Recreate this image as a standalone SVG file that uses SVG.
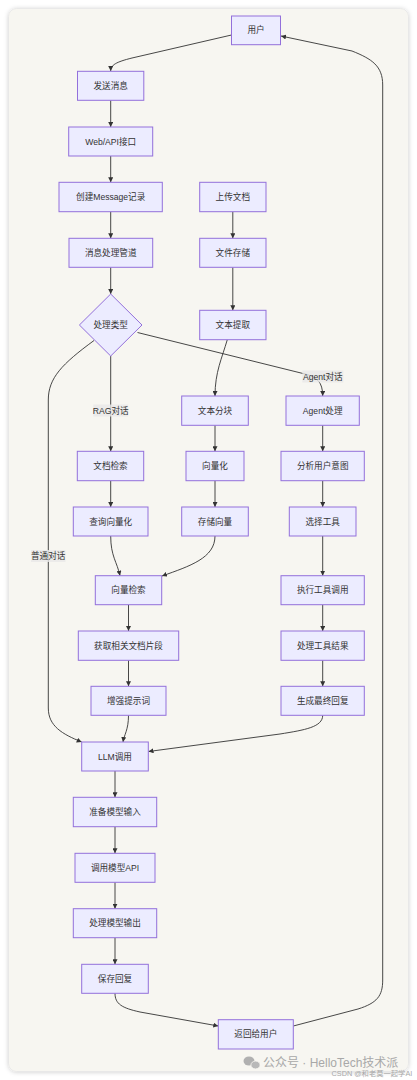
<svg xmlns="http://www.w3.org/2000/svg" width="417" height="1080" viewBox="0 0 417 1080">
<defs>
<filter id="sh" x="-5%" y="-5%" width="110%" height="110%"><feDropShadow dx="0" dy="0.5" stdDeviation="2" flood-color="#000" flood-opacity="0.18"/></filter>
<marker id="ah" viewBox="0 0 10 10" refX="10" refY="5" markerUnits="userSpaceOnUse" markerWidth="5" markerHeight="5" orient="auto"><path d="M0,0 L10,5 L0,10 z" fill="#333"/></marker>
</defs>
<style>
.n rect,.n polygon{fill:#ECECFF;stroke:#9370DB;stroke-width:1}
.n text,.lb text{font-family:"Liberation Sans","Noto Sans CJK SC",sans-serif;font-size:8.6px;fill:#333;text-anchor:middle;dominant-baseline:central}
.e path{fill:none;stroke:#333;stroke-width:0.9;marker-end:url(#ah)}
.lb rect{fill:#e8e8e8;opacity:0.8}
.wm{font-family:"Liberation Sans","Noto Sans CJK SC",sans-serif;fill:#a8a8a8}
</style>
<rect x="0" y="0" width="417" height="1080" fill="#ffffff"/>
<rect x="8.5" y="8.5" width="400" height="1063" rx="8" fill="#F7F6F1" stroke="#e6e6e6" stroke-width="0.8" filter="url(#sh)"/>

<g id="connectors" class="e">
<path d="M231.5,35 L132,58 C116,62 110.7,65 110.7,71"/>
<path d="M110.7,100.3 L110.7,127"/>
<path d="M110.7,156 L110.7,182.3"/>
<path d="M110.7,211.7 L110.7,238.3"/>
<path d="M110.7,267.3 L110.7,294"/>
<path d="M232.8,211.7 L232.8,238.3"/>
<path d="M232.8,267.3 L232.8,310.3"/>
<path d="M227.3,339.7 C222,358 215,372 215,396"/>
<path d="M110.7,356 L110.7,451.3"/>
<path d="M137.5,332.5 L305,374 C317,377 322.7,382 322.7,396"/>
<path d="M94,340.5 C62,364 48.3,378 48.3,400 L48.3,708 C48.3,726 62,734 81.7,742"/>
<path d="M110.7,480.7 L110.7,507"/>
<path d="M110.7,536 C110.7,556 117,562 120,575.7"/>
<path d="M215,425.3 L215,451.3"/>
<path d="M215,480.7 L215,507"/>
<path d="M215,536 C215,558 190,566 162,576"/>
<path d="M128.5,604.7 L128.5,631"/>
<path d="M128.5,660.3 L128.5,686.3"/>
<path d="M128.5,715.3 C128.5,730 124,735 123,742"/>
<path d="M322.7,425.3 L322.7,451.3"/>
<path d="M322.7,480.7 L322.7,507"/>
<path d="M322.7,536 L322.7,575.7"/>
<path d="M322.7,604.7 L322.7,631"/>
<path d="M322.7,660.3 L322.7,686.3"/>
<path d="M322.7,715.3 C322.7,727 305,730 280,734 L148.5,751.5"/>
<path d="M115,771 L115,797.3"/>
<path d="M115,826.7 L115,853.3"/>
<path d="M115,882.3 L115,908.7"/>
<path d="M115,937.7 L115,964.3"/>
<path d="M115,993.3 C115,1004 122,1008 140,1012 L218.3,1026"/>
<path d="M293.3,1026 L358,1009 C377,1003 382.7,996 382.7,980 L382.7,85 C382.7,66 372,59 352,51 L281,36"/>
</g>

<g id="edge-labels" class="lb">
<g id="lbl-rag"><rect x="93.3" y="404.5" width="34.8" height="12"/><text x="110.7" y="410.5">RAG对话</text></g>
<g id="lbl-agent"><rect x="302.3" y="370.5" width="41" height="12"/><text x="322.8" y="376.5">Agent对话</text></g>
<g id="lbl-normal"><rect x="31" y="550" width="34.4" height="12"/><text x="48.2" y="556">普通对话</text></g>
</g>

<g id="n-user" class="n"><rect x="231.5" y="16" width="49" height="28.7"/><text x="256" y="30.3">用户</text></g>
<g id="n-send" class="n"><rect x="77.5" y="71.3" width="66.3" height="29"/><text x="110.7" y="85.8">发送消息</text></g>
<g id="n-api" class="n"><rect x="68.7" y="127" width="84" height="29"/><text x="110.7" y="141.5">Web/API接口</text></g>
<g id="n-create" class="n"><rect x="59" y="182.3" width="103.3" height="29.4"/><text x="110.7" y="197">创建Message记录</text></g>
<g id="n-upload" class="n"><rect x="199.7" y="182.3" width="66.3" height="29.4"/><text x="232.8" y="197">上传文档</text></g>
<g id="n-pipe" class="n"><rect x="69" y="238.3" width="83.7" height="29"/><text x="110.7" y="252.8">消息处理管道</text></g>
<g id="n-store" class="n"><rect x="199.7" y="238.3" width="66.3" height="29"/><text x="232.8" y="252.8">文件存储</text></g>
<g id="n-type" class="n"><polygon points="110.7,294 142,325 110.7,356 79.4,325"/><text x="110.7" y="325">处理类型</text></g>
<g id="n-extract" class="n"><rect x="199.7" y="310.3" width="66.3" height="29.4"/><text x="232.8" y="325">文本提取</text></g>
<g id="n-chunk" class="n"><rect x="181.7" y="396" width="66.6" height="29.3"/><text x="215" y="410.7">文本分块</text></g>
<g id="n-agent" class="n"><rect x="286" y="396" width="73.3" height="29.3"/><text x="322.7" y="410.7">Agent处理</text></g>
<g id="n-docsearch" class="n"><rect x="77.3" y="451.3" width="66.4" height="29.4"/><text x="110.5" y="466">文档检索</text></g>
<g id="n-vec" class="n"><rect x="186" y="451.3" width="58" height="29.4"/><text x="215" y="466">向量化</text></g>
<g id="n-intent" class="n"><rect x="281" y="451.3" width="83.3" height="29.4"/><text x="322.7" y="466">分析用户意图</text></g>
<g id="n-qvec" class="n"><rect x="73.3" y="507" width="74.7" height="29"/><text x="110.7" y="521.5">查询向量化</text></g>
<g id="n-svec" class="n"><rect x="181.7" y="507" width="66.6" height="29"/><text x="215" y="521.5">存储向量</text></g>
<g id="n-tool" class="n"><rect x="289.3" y="507" width="66.7" height="29"/><text x="322.7" y="521.5">选择工具</text></g>
<g id="n-vsearch" class="n"><rect x="95.3" y="575.7" width="66.4" height="29"/><text x="128.5" y="590.2">向量检索</text></g>
<g id="n-exec" class="n"><rect x="281" y="575.7" width="83.3" height="29"/><text x="322.7" y="590.2">执行工具调用</text></g>
<g id="n-frag" class="n"><rect x="78.3" y="631" width="100.4" height="29.3"/><text x="128.5" y="645.7">获取相关文档片段</text></g>
<g id="n-result" class="n"><rect x="281" y="631" width="83.3" height="29.3"/><text x="322.7" y="645.7">处理工具结果</text></g>
<g id="n-prompt" class="n"><rect x="91" y="686.3" width="75" height="29"/><text x="128.5" y="700.8">增强提示词</text></g>
<g id="n-final" class="n"><rect x="281" y="686.3" width="83.3" height="29"/><text x="322.7" y="700.8">生成最终回复</text></g>
<g id="n-llm" class="n"><rect x="81.7" y="742" width="66.6" height="29"/><text x="115" y="756.5">LLM调用</text></g>
<g id="n-prep" class="n"><rect x="73.3" y="797.3" width="83.4" height="29.4"/><text x="115" y="812">准备模型输入</text></g>
<g id="n-callapi" class="n"><rect x="75" y="853.3" width="80" height="29"/><text x="115" y="867.8">调用模型API</text></g>
<g id="n-out" class="n"><rect x="73.3" y="908.7" width="83.4" height="29"/><text x="115" y="923.2">处理模型输出</text></g>
<g id="n-save" class="n"><rect x="81.7" y="964.3" width="66.6" height="29"/><text x="115" y="978.8">保存回复</text></g>
<g id="n-return" class="n"><rect x="218.3" y="1019.7" width="75" height="29.3"/><text x="255.8" y="1034.3">返回给用户</text></g>

<g id="watermark">
<ellipse cx="249" cy="1061" rx="5.5" ry="4.6" fill="#b0b0b0"/>
<ellipse cx="255.5" cy="1065" rx="4.6" ry="3.9" fill="#b8b8b8" stroke="#F7F6F1" stroke-width="0.8"/>
<text class="wm" x="263" y="1067" font-size="12">公众号 · HelloTech技术派</text>
<text class="wm" x="331.5" y="1075.5" font-size="7.3" fill="#c4c4c4">CSDN @和老莫一起学AI</text>
</g>
</svg>
